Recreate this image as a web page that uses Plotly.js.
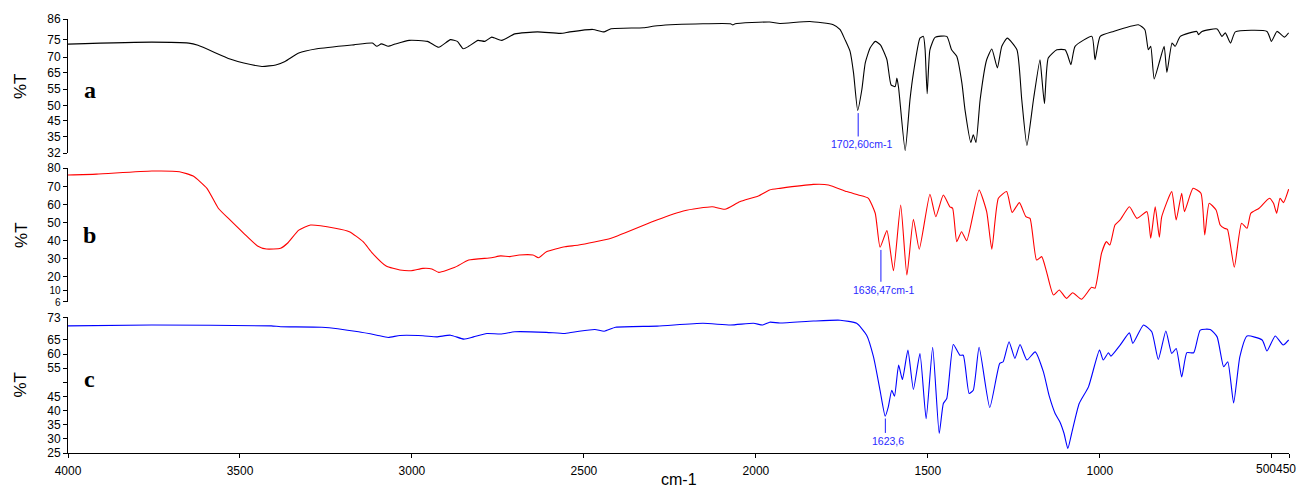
<!DOCTYPE html>
<html>
<head>
<meta charset="utf-8">
<script src="https://cdn.plot.ly/plotly-3.0.1.min.js"></script>
<style>html,body{margin:0;padding:0;background:#fff;overflow:hidden}</style>
</head>
<body>
<div id="chart" style="width:1301px;height:489px"></div>
<script>
// ---------- data (wavenumber cm-1, %T) ----------
const wnA = [4000,3756,3649,3622,3529,3489,3436,3396,3369,3329,
  3276,3169,3115,3102,3089,3069,3049,3008,2955,2922,
  2888,2868,2851,2835,2808,2788,2768,2739,2701,2635,
  2568,2541,2474,2441,2421,2327,2287,2154,2074,2067,
  2060,1960,1930,1843,1775,1755,1741,1726,1716,1704,
  1692,1682,1668,1653,1638,1619,1607,1595,1590,1585,
  1566,1552,1542,1523,1513,1508,1502,1494,1479,1445,
  1431,1416,1401,1392,1375,1368,1360,1348,1329,1314,
  1298,1285,1269,1241,1227,1212,1193,1174,1169,1161,
  1150,1125,1101,1094,1084,1072,1023,1014,999,960,
  888,869,859,852,842,825,813,805,790,781,
  766,718,713,703,659,645,635,620,606,514,
  501,485,463,451];
const tA = [75.9,76.7,76.3,75.4,69.9,68.3,66.9,67.5,68.9,72.3,
  74.0,75.6,76.3,75.0,76.0,75.0,75.9,77.4,77.0,74.6,
  77.7,77.0,74.0,75.0,77.4,77.0,78.7,77.4,80.0,80.8,
  80.2,80.8,81.8,80.8,82.1,82.5,83.3,84.1,84.1,83.6,
  84.1,84.8,84.2,85.0,83.7,81.7,77.7,72.9,64.2,49.2,
  57.5,68.3,74.3,77.0,75.6,69.6,59.5,58.8,62.2,58.2,
  33.0,53.5,64.2,78.3,79.0,73.6,55.9,73.6,78.6,79.0,
  73.6,71.0,60.2,49.4,36.3,39.4,36.3,53.5,69.6,73.9,
  66.3,75.0,78.3,73.6,53.5,35.1,53.5,69.6,62.9,51.9,
  70.3,73.6,73.6,71.6,67.6,75.0,79.0,69.6,79.0,81.0,
  83.7,81.7,73.6,75.0,61.9,69.6,75.0,64.5,76.3,75.0,
  79.0,81.0,79.7,81.0,82.0,79.0,80.4,76.3,80.8,81.0,
  77.0,81.0,78.7,80.4];

const wnB = [4000,3917,3756,3676,3636,3596,3563,3529,3489,3449,
  3423,3382,3362,3329,3295,3223,3182,3142,3115,3075,
  3035,3002,2968,2942,2922,2875,2835,2769,2742,2715,
  2688,2648,2632,2609,2555,2515,2421,2288,2208,2127,
  2090,2047,1993,1960,1930,1833,1789,1736,1702,1673,
  1653,1639,1619,1600,1579,1561,1542,1525,1494,1477,
  1455,1436,1428,1416,1402,1387,1351,1329,1314,1295,
  1271,1255,1234,1215,1203,1184,1169,1155,1135,1118,
  1097,1079,1053,1024,1014,995,981,971,956,941,
  914,892,863,852,839,827,820,791,778,762,
  754,729,706,695,682,662,650,638,629,609,
  588,572,561,537,507,495,486,476,466,451];
const tB = [76.3,76.8,78.5,78.1,75.7,68.9,57.9,51.4,44.0,37.0,
  35.3,35.7,38.5,45.8,48.6,46.8,44.9,39.4,33.0,25.9,
  23.7,23.3,24.6,24.3,22.4,25.2,29.2,30.5,31.5,31.1,
  32.0,32.0,30.5,33.8,36.6,37.5,41.3,51.4,56.5,58.7,
  57.3,61.5,64.7,68.0,68.9,71.1,70.8,67.1,65.2,63.4,
  55.1,36.3,45.5,23.3,59.7,20.9,51.8,35.2,65.6,53.2,
  65.2,58.7,57.9,39.4,44.9,39.9,68.0,56.0,35.2,63.4,
  67.1,55.6,61.0,53.2,52.3,29.2,31.1,22.8,9.9,12.6,
  8.0,11.1,7.5,14.1,13.6,33.0,39.4,37.5,48.6,51.4,
  58.7,52.3,56.0,41.3,58.7,41.8,53.2,67.1,51.4,66.2,
  56.0,68.9,66.2,43.1,60.6,56.9,48.6,46.8,46.2,25.2,
  49.6,46.8,55.1,57.9,63.4,60.6,55.1,63.4,61.0,68.4];

const wnC = [4000,3756,3409,3382,3262,3155,3102,3069,3035,2968,
  2928,2888,2849,2821,2782,2742,2701,2609,2555,2514,
  2468,2441,2408,2287,2154,2074,2007,1980,1960,1930,
  1833,1755,1707,1678,1658,1639,1624,1615,1605,1597,
  1585,1574,1558,1542,1523,1505,1486,1467,1455,1445,
  1426,1407,1397,1380,1368,1351,1320,1291,1281,1264,
  1247,1232,1212,1188,1164,1147,1130,1116,1104,1093,
  1082,1060,1033,1001,990,975,968,941,914,904,
  873,849,830,808,791,778,762,747,727,708,
  679,659,640,628,611,593,572,528,514,490,
  467,451];
const tC = [70.0,70.3,70.0,69.7,69.5,67.9,66.7,65.9,66.6,66.5,
  66.1,66.7,65.3,66.1,67.3,67.1,67.9,67.7,67.3,68.1,
  68.7,68.1,69.5,69.9,70.9,70.3,70.9,70.3,71.3,71.0,
  71.7,72.0,70.9,66.7,59.0,47.2,38.0,41.3,47.2,45.1,
  56.1,51.0,61.4,47.5,60.2,37.1,62.4,31.9,42.5,44.3,
  63.4,59.6,59.6,46.1,47.2,62.4,41.1,56.7,57.3,64.4,
  58.5,63.4,57.9,60.8,53.7,45.1,39.0,36.0,31.9,26.6,
  31.9,42.5,48.4,61.4,57.9,60.5,59.3,63.2,67.5,63.8,
  70.3,67.9,58.1,68.2,60.2,62.0,51.9,60.5,60.5,68.5,
  68.7,66.1,55.5,57.3,42.7,59.0,66.4,65.0,61.1,66.4,
  63.2,65.0];

// tick labels
const xTickVals = [4000,3500,3000,2500,2000,1500,1000,500,450];
const xTickText = ['4000','3500','3000','2500','2000','1500','1000','500','450'];
const aTickText = ['86','75','70','65','55','50','45','35','32'];
const aTickVals = [86,77.7,70.7,64.5,57.8,51.1,45.1,38.7,32];
const bTickText = ['80','70','60','50','40','30','20','10','6'];
const bTickVals = [80,70,60,50,40,30,20,12.6,6];
const cTickText = ['73','65','60','55','','45','40','35','30','25'];
const cTickVals = [73,65,60,55,50,45,40,35,30,25];

// panel letters and peak labels
const panelLetters = ['a','b','c'];
const peakWn = [1702.6, 1636.47, 1623.6];
const peakText = ['1702,60cm-1','1636,47cm-1','1623,6'];

// ---------- styling / layout ----------
const FONT = 'Liberation Sans, Arial, Helvetica, sans-serif';
const peakLine = [[48.1,38.7],[34.8,17.2],[37.2,32.1]]; // y extent of marker line in each panel
const yRefs = ['y','y2','y3'];
const colors = ['#000000','#ff0000','#0000ff'];

const traces = [
  {x: wnA, y: tA, xaxis:'x', yaxis:'y'},
  {x: wnB, y: tB, xaxis:'x', yaxis:'y2'},
  {x: wnC, y: tC, xaxis:'x', yaxis:'y3'}
].map((t,i)=>Object.assign(t,{type:'scatter',mode:'lines',
  line:{color:colors[i],width:1.1,shape:'spline',smoothing:0.5},hoverinfo:'skip'}));

// the two crowded bottom labels of panel b are drawn a little smaller
const small = s => '<span style="font-size:10px">'+s+'</span>';

function yax(domain, range, vals, text){
  return {domain:domain, range:range, anchor:'x', showline:true, linecolor:'#000', linewidth:1,
    ticks:'outside', ticklen:4, tickcolor:'#000', tickwidth:1, showgrid:false, zeroline:false,
    tickmode:'array', tickvals:vals, ticktext:text,
    tickfont:{family:FONT,size:12,color:'#000'}, fixedrange:true};
}

const annotations = [];
const shapes = [];
const letterY = [0.8373,0.5012,0.171];
const titleY = [0.845,0.502,0.157];
panelLetters.forEach((L,i)=>{
  annotations.push({xref:'paper',yref:'paper',x:0.018,y:letterY[i],xanchor:'center',yanchor:'middle',
    text:'<b>'+L+'</b>',showarrow:false,font:{family:'Liberation Serif, Times New Roman, serif',size:24,color:'#000'}});
  annotations.push({xref:'paper',yref:'paper',x:-0.0387,y:titleY[i],xanchor:'center',yanchor:'middle',
    text:'%T',textangle:-90,showarrow:false,font:{family:FONT,size:17,color:'#000'}});
  shapes.push({type:'line',xref:'x',yref:yRefs[i],x0:peakWn[i],x1:peakWn[i],y0:peakLine[i][0],y1:peakLine[i][1],
    line:{color:'#1a1aff',width:1}});
  annotations.push({xref:'x',yref:yRefs[i],x:peakWn[i],y:peakLine[i][1],xanchor:'center',yanchor:'top',xshift:3,
    text:peakText[i],showarrow:false,font:{family:FONT,size:10.5,color:'#2a2aff'}});
});
// combined end labels
annotations.push({xref:'x',yref:'paper',x:450,y:-0.0369,xanchor:'right',yanchor:'middle',xshift:9,
  text:'500450',showarrow:false,font:{family:FONT,size:12,color:'#000'}});
// x axis title
annotations.push({xref:'paper',yref:'paper',x:0.5,y:-0.0825,xanchor:'center',yanchor:'bottom',borderpad:0,
  text:'cm-1',showarrow:false,font:{family:FONT,size:16,color:'#000'}});

const layout = {
  width:1301, height:489,
  margin:{l:68,r:12,t:19,b:36,pad:0},
  paper_bgcolor:'#fff', plot_bgcolor:'#fff', showlegend:false,
  xaxis:{range:[4000,450], anchor:'y3', showline:true, linecolor:'#000', linewidth:1,
    ticks:'outside', ticklen:4, tickcolor:'#000', showgrid:false, zeroline:false,
    tickmode:'array', tickvals:xTickVals, ticktext:xTickText.map(t=>(t==='500'||t==='450')?'':t),
    tickangle:0, ticklabelstandoff:3, tickfont:{family:FONT,size:12,color:'#000'}, fixedrange:true},
  yaxis: yax([0.691,1.0],[32,86],aTickVals,aTickText),
  yaxis2: yax([0.348,0.656],[6,80],bTickVals,bTickText.map(t=>(t==='10'||t==='6')?small(t):t)),
  yaxis3: yax([0,0.3125],[25,73],cTickVals,cTickText),
  annotations:annotations, shapes:shapes
};

Plotly.newPlot('chart', traces, layout, {staticPlot:true, displayModeBar:false});
</script>
</body>
</html>
